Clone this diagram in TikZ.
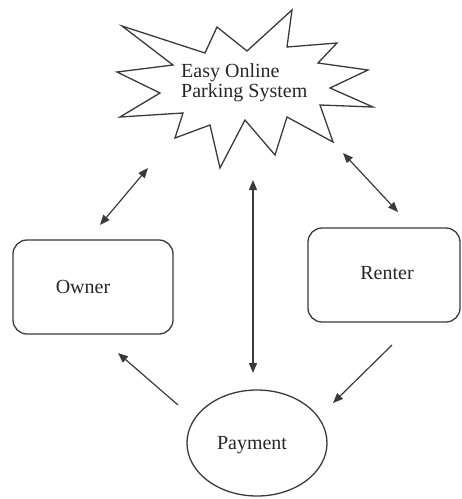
\documentclass[tikz,border=0pt]{standalone}
\usepackage{fontspec}
\setmainfont{Liberation Serif}
\usetikzlibrary{arrows.meta,shapes.geometric}
\definecolor{ink}{HTML}{3A3A3A}
\definecolor{textink}{HTML}{262626}
\begin{document}
\begin{tikzpicture}[x=1pt,y=-1pt,
  outline/.style={draw=ink, line width=1.3pt},
  box/.style={outline, rounded corners=14pt, inner sep=0pt},
  caption/.style={text=textink, font=\fontsize{20}{20}\selectfont, inner sep=0pt},
  tip/.tip={Triangle[length=10pt,width=8pt]},
  link/.style={draw=ink, line width=1.2pt, -tip},
  twoway/.style={draw=ink, line width=1.2pt, tip-tip}]
\useasboundingbox (0,0) rectangle (462,499);

% starburst outline
\draw[outline, line join=miter, miter limit=20]
  (122,26) -- (205,53) -- (217,27) -- (247,51) -- (292,10) -- (287,47)
  -- (337,43) -- (318,63) -- (368,70) -- (330,88) -- (373,107) -- (320,105)
  -- (333,142) -- (287,117) -- (275,155) -- (245,120) -- (220,168) -- (210,125)
  -- (175,138) -- (183,113) -- (120,117) -- (160,93) -- (117,72) -- (173,65)
  -- cycle;
\node[caption, anchor=north west, align=left] (system) at (181,63)
  {Easy Online\\Parking System};

% participants
\node[box, minimum width=160pt, minimum height=94pt] (owner) at (93,287) {};
\node[caption] (ownertext) at (83,287) {Owner};
\node[box, minimum width=152pt, minimum height=94pt] (renter) at (384,275) {};
\node[caption] (rentertext) at (387,273) {Renter};
\node[outline, ellipse, minimum width=140pt, minimum height=106pt, inner sep=0pt] (payment) at (257,443) {};
\node[caption] (paymenttext) at (252,445) {Payment};

% connector ends
\coordinate (sysowner) at (148,168);
\coordinate (ownersys) at (100,225);
\coordinate (syspay) at (253,180);
\coordinate (paysys) at (253,373);
\coordinate (sysrenter) at (343,153);
\coordinate (rentersys) at (398,212);
\coordinate (renterpay) at (392,345);
\coordinate (payrenter) at (333,403);
\coordinate (payowner) at (178,405);
\coordinate (ownerpay) at (118,353);

\draw[twoway] (ownersys) -- (sysowner);
\draw[twoway] (paysys) -- (syspay);
\draw[twoway] (sysrenter) -- (rentersys);
\draw[link] (renterpay) -- (payrenter);
\draw[link] (payowner) -- (ownerpay);
\end{tikzpicture}
\end{document}
